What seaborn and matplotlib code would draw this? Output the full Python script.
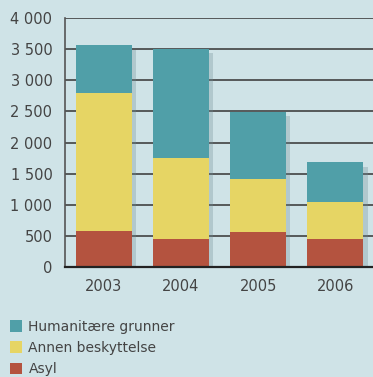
import matplotlib
matplotlib.use("Agg")
import matplotlib.pyplot as plt
import matplotlib.patheffects as pe
from matplotlib.patches import Patch
from matplotlib.ticker import FuncFormatter, FixedLocator
import numpy as np
import pandas as pd
import seaborn as sns

years = ["2003", "2004", "2005", "2006"]
asyl = [580, 450, 560, 450]
annen = [2210, 1300, 850, 590]
humanitaere = [770, 1750, 1080, 640]

series_names = ["Humanitære grunner", "Annen beskyttelse", "Asyl"]
colors = {"Asyl": "#b4533f", "Annen beskyttelse": "#e6d564", "Humanitære grunner": "#509fa8"}
bg = "#cfe3e7"
text_color = "#444444"

sns.set_theme(style="white")
plt.rcParams["font.family"] = ["DejaVu Sans"]

fig = plt.figure(figsize=(3.73, 3.77), dpi=100, facecolor=bg)
ax = fig.add_axes([0.174, 0.292, 0.826, 0.66])
ax.set_facecolor(bg)

df = pd.DataFrame({"year": years, "Asyl": asyl,
                   "Annen beskyttelse": annen,
                   "Humanitære grunner": humanitaere})
# cumulative tops, drawn from the tallest layer downward
df["top_asyl"] = df["Asyl"]
df["top_annen"] = df["top_asyl"] + df["Annen beskyttelse"]
df["top_hum"] = df["top_annen"] + df["Humanitære grunner"]

shadow = [pe.SimplePatchShadow(offset=(3, -3), shadow_rgbFace="#6d8c93", alpha=0.3), pe.Normal()]
for col, name in [("top_hum", "Humanitære grunner"), ("top_annen", "Annen beskyttelse"), ("top_asyl", "Asyl")]:
    sns.barplot(data=df, x="year", y=col, color=colors[name], saturation=1,
                width=0.73, ax=ax, zorder=3, linewidth=0)
for p in ax.patches[:len(years)]:
    p.set_path_effects(shadow)

ax.set_xlim(-0.505, 3.49)
ax.set_ylim(0, 4000)
ax.set_yticks(np.arange(0, 4001, 500))
ax.yaxis.set_major_formatter(FuncFormatter(lambda v, _: f"{int(v):,}".replace(",", " ")))
ax.grid(axis="y", color="#3a3a3a", linewidth=1.15, zorder=1)
ax.set_axisbelow(True)
ax.set_xlabel("")
ax.set_ylabel("")

for s in ["top", "right"]:
    ax.spines[s].set_visible(False)
ax.spines["left"].set_color("#555555")
ax.spines["left"].set_linewidth(1.2)
ax.spines["bottom"].set_color("#222222")
ax.spines["bottom"].set_linewidth(1.6)
ax.spines["bottom"].set_zorder(4)

ax.tick_params(axis="y", length=0, pad=9, labelsize=10.5, labelcolor=text_color)
ax.tick_params(axis="x", which="major", length=0, pad=9, labelsize=10.5, labelcolor=text_color)
ax.xaxis.set_minor_locator(FixedLocator([0.5, 1.5, 2.5]))
ax.tick_params(axis="x", which="minor", direction="in", length=6, width=1.5, color="#222222")

handles = [Patch(facecolor=colors[n], edgecolor="none", label=n) for n in series_names]
fig.legend(handles=handles, loc="upper left", bbox_to_anchor=(0.0, 0.178),
           frameon=False, fontsize=10, labelcolor=text_color,
           handlelength=0.9, handleheight=0.9, handletextpad=0.45,
           labelspacing=0.53, borderaxespad=0.3)

fig.savefig("out.png", dpi=100, facecolor=bg)
